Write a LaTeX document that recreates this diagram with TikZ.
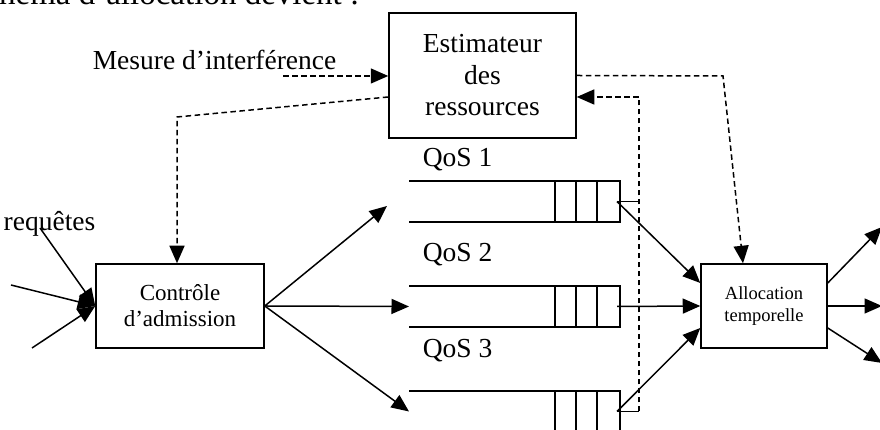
\documentclass[tikz,border=0pt]{standalone}
\usepackage{fontspec}
\setmainfont{Liberation Serif}
\usetikzlibrary{arrows.meta, calc}

\begin{document}
\begin{tikzpicture}[x=0.4pt, y=-0.4pt, >={Triangle[length=7pt, width=6pt]},
    line width=0.6pt,
    bloc/.style={draw, inner sep=0pt, align=center},
    pointille/.style={dash pattern=on 2.2pt off 1.4pt},
    txt/.style={inner sep=0pt, font=\fontsize{11}{12.6}\selectfont}]
  \useasboundingbox (0,0) rectangle (880,430);
  \clip (0,0) rectangle (880,430);

  \node[inner sep=0pt, anchor=base east, font=\fontsize{13.2}{15}\selectfont]
        (intro) at (360,5) {schéma d’allocation devient :};

  % blocs
  \node[bloc, minimum width=74.8pt, minimum height=50pt, font=\fontsize{11}{12.6}\selectfont]
        (est) at (482.5,75.5) {Estimateur\\des\\ressources};
  \node[bloc, minimum width=67.2pt, minimum height=33.6pt, font=\fontsize{9.2}{10.4}\selectfont]
        (ctrl) at (180,306) {Contrôle\\d’admission};
  \node[bloc, minimum width=50.4pt, minimum height=33.6pt, font=\fontsize{7.4}{8.8}\selectfont]
        (alloc) at (764,306) {Allocation\\temporelle};

  % files d'attente
  \foreach \i/\y/\b in {1/181/167, 2/286/262, 3/391/358} {
    \draw (409,\y) -- (620,\y) -- (620,\y+41) -- (409,\y+41);
    \foreach \x in {555,576,597} \draw (\x,\y) -- (\x,\y+41);
    \node[txt, anchor=base west] (qos\i) at (422,\b) {QoS \i};
    \coordinate (qin\i) at (409,\y+20.5);
    \coordinate (qout\i) at (617,\y+20.5);
  }

  \node[txt, anchor=base west] (req) at (3,231) {requêtes};
  \node[txt, anchor=base west] (mes) at (92,70) {Mesure d’interférence};

  \coordinate (in1) at (40,228);
  \coordinate (in2) at (11,285);
  \coordinate (in3) at (32,348);
  \coordinate (up) at (387,206);
  \coordinate (o1) at (882,227);
  \coordinate (o2) at (882,306);
  \coordinate (o3) at (882,363);
  \coordinate (m0) at (283,76);
  \coordinate (k) at (177,117);
  \coordinate (e1) at (723,76);
  \coordinate (r1) at (639,201.5);
  \coordinate (r3) at (639,411.5);

  \foreach \s in {in1,in2,in3} \draw[->] (\s) -- (ctrl.west);
  \draw[->] (ctrl.east) -- (up);
  \draw[->] (ctrl.east) -- (qin2);
  \draw[->] (ctrl.east) -- (qin3);

  \draw[->] (qout1) -- ($(alloc.west)+(0,-23)$);
  \draw[->] (qout2) -- (alloc.west);
  \draw[->] (qout3) -- ($(alloc.west)+(0,22)$);
  \draw (qout1) -- (r1);
  \draw (qout3) -- (r3);

  \draw[->] ($(alloc.east)+(0,-23)$) -- (o1);
  \draw[->] (alloc.east) -- (o2);
  \draw[->] ($(alloc.east)+(0,22)$) -- (o3);

  % liens de mesure
  \draw[pointille, ->] (m0) -- (m0 -| est.west);
  \draw[pointille, ->] ($(est.west)+(0,21.5)$) -- (k) -- (k |- ctrl.north);
  \draw[pointille, ->] (est.east) -- (e1) -- ($(alloc.north)+(-21,0)$);
  \draw[pointille, ->] (r3) |- ($(est.east)+(0,21.5)$);
\end{tikzpicture}
\end{document}
